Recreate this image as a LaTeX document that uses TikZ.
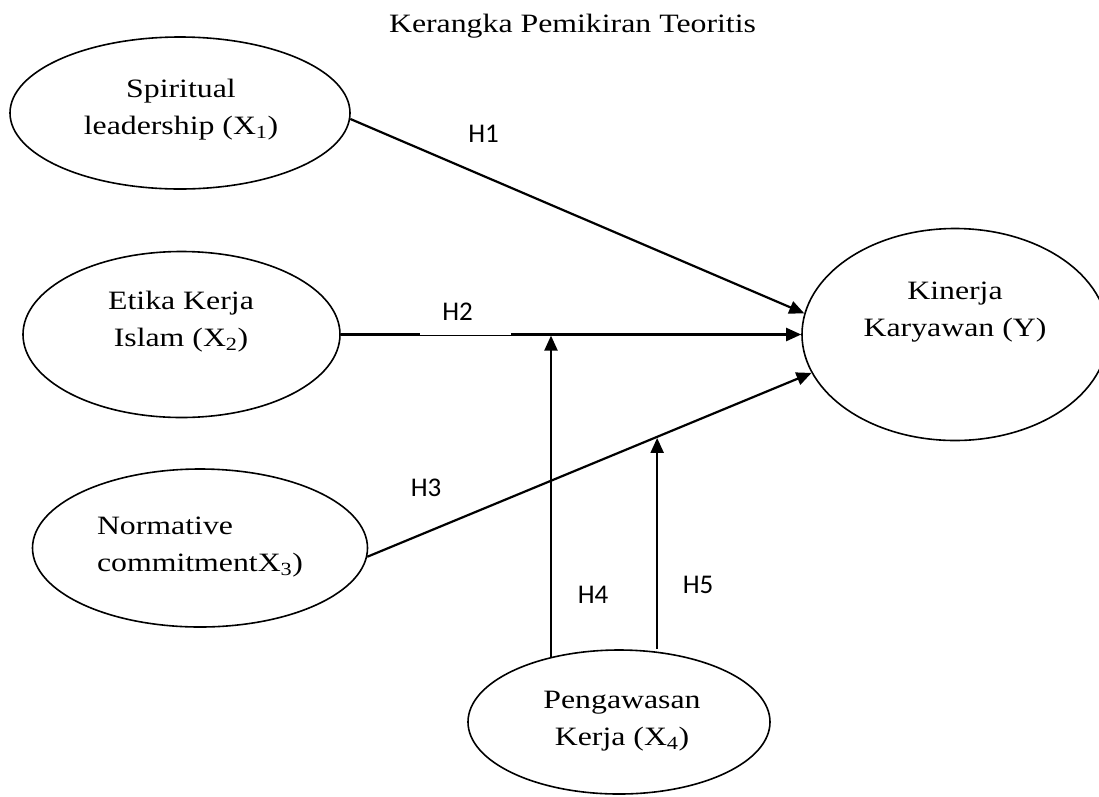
\documentclass[tikz,border=0pt]{standalone}
\usepackage{fontspec}
\setmainfont{Liberation Serif}[FakeStretch=1.2]
\newfontfamily\labelfont{Carlito}
\usetikzlibrary{arrows.meta,shapes.geometric}

\begin{document}
\begin{tikzpicture}[
    x=1pt, y=-1pt,
    varbox/.style={ellipse, draw=black, line width=1.6pt, inner sep=0pt},
    vartext/.style={font=\fontsize{26.5}{37}\selectfont, align=center, inner sep=0pt},
    hlabel/.style={font=\labelfont\fontsize{27}{32}\selectfont, inner sep=0pt},
    arrowline/.style={line width=2.2pt, -{Triangle[length=15pt, width=13pt]}}
]
    \useasboundingbox (0,0) rectangle (1099,796);

    % Title
    \node[vartext, anchor=base] (title) at (572.5,32) {Kerangka Pemikiran Teoritis};

    % Spiritual leadership
    \node[varbox, minimum width=340pt, minimum height=152pt] (spirit) at (180,113) {};
    \node[vartext] (spirit-txt) at (181,110) {Spiritual\\leadership (X\textsubscript{1})};

    % Etika Kerja Islam
    \node[varbox, minimum width=317pt, minimum height=166pt] (etika) at (181.5,334.5) {};
    \node[vartext] (etika-txt) at (181,322) {Etika Kerja\\Islam (X\textsubscript{2})};

    % Normative commitment
    \node[varbox, minimum width=335pt, minimum height=158pt] (norm) at (200,548) {};
    \node[vartext, align=left] (norm-txt) at (200,547) {Normative\\commitmentX\textsubscript{3})};

    % Kinerja Karyawan
    \node[varbox, minimum width=306pt, minimum height=212pt] (kin) at (955,334.5) {};
    \node[vartext] (kin-txt) at (955,312.5) {Kinerja\\Karyawan (Y)};

    % Pengawasan Kerja
    \node[varbox, minimum width=302pt, minimum height=144pt] (peng) at (619,722) {};
    \node[vartext] (peng-txt) at (622,721) {Pengawasan\\Kerja (X\textsubscript{4})};

    % Hypotheses
    \draw[arrowline] (spirit.-2) -- (kin.172);
    \draw[arrowline] (etika.east) -- (kin.west);
    \fill[white] (420,318) rectangle (511,334.6);
    \draw[arrowline] (norm.-3) -- coordinate[pos=0.6525] (h5top) (kin.195);
    \coordinate (h4s) at (551,658);
    \draw[arrowline, shorten >=1.1pt] (h4s) -- (h4s |- etika.east);
    \draw[arrowline, shorten >=1.1pt] (h5top |- peng.north) -- (h5top);

    \node[hlabel] (h1) at (483.5,134) {H1};
    \node[hlabel] (h2) at (457.5,312) {H2};
    \node[hlabel] (h3) at (426,488) {H3};
    \node[hlabel] (h4) at (593,595) {H4};
    \node[hlabel] (h5) at (698,585) {H5};
\end{tikzpicture}
\end{document}
